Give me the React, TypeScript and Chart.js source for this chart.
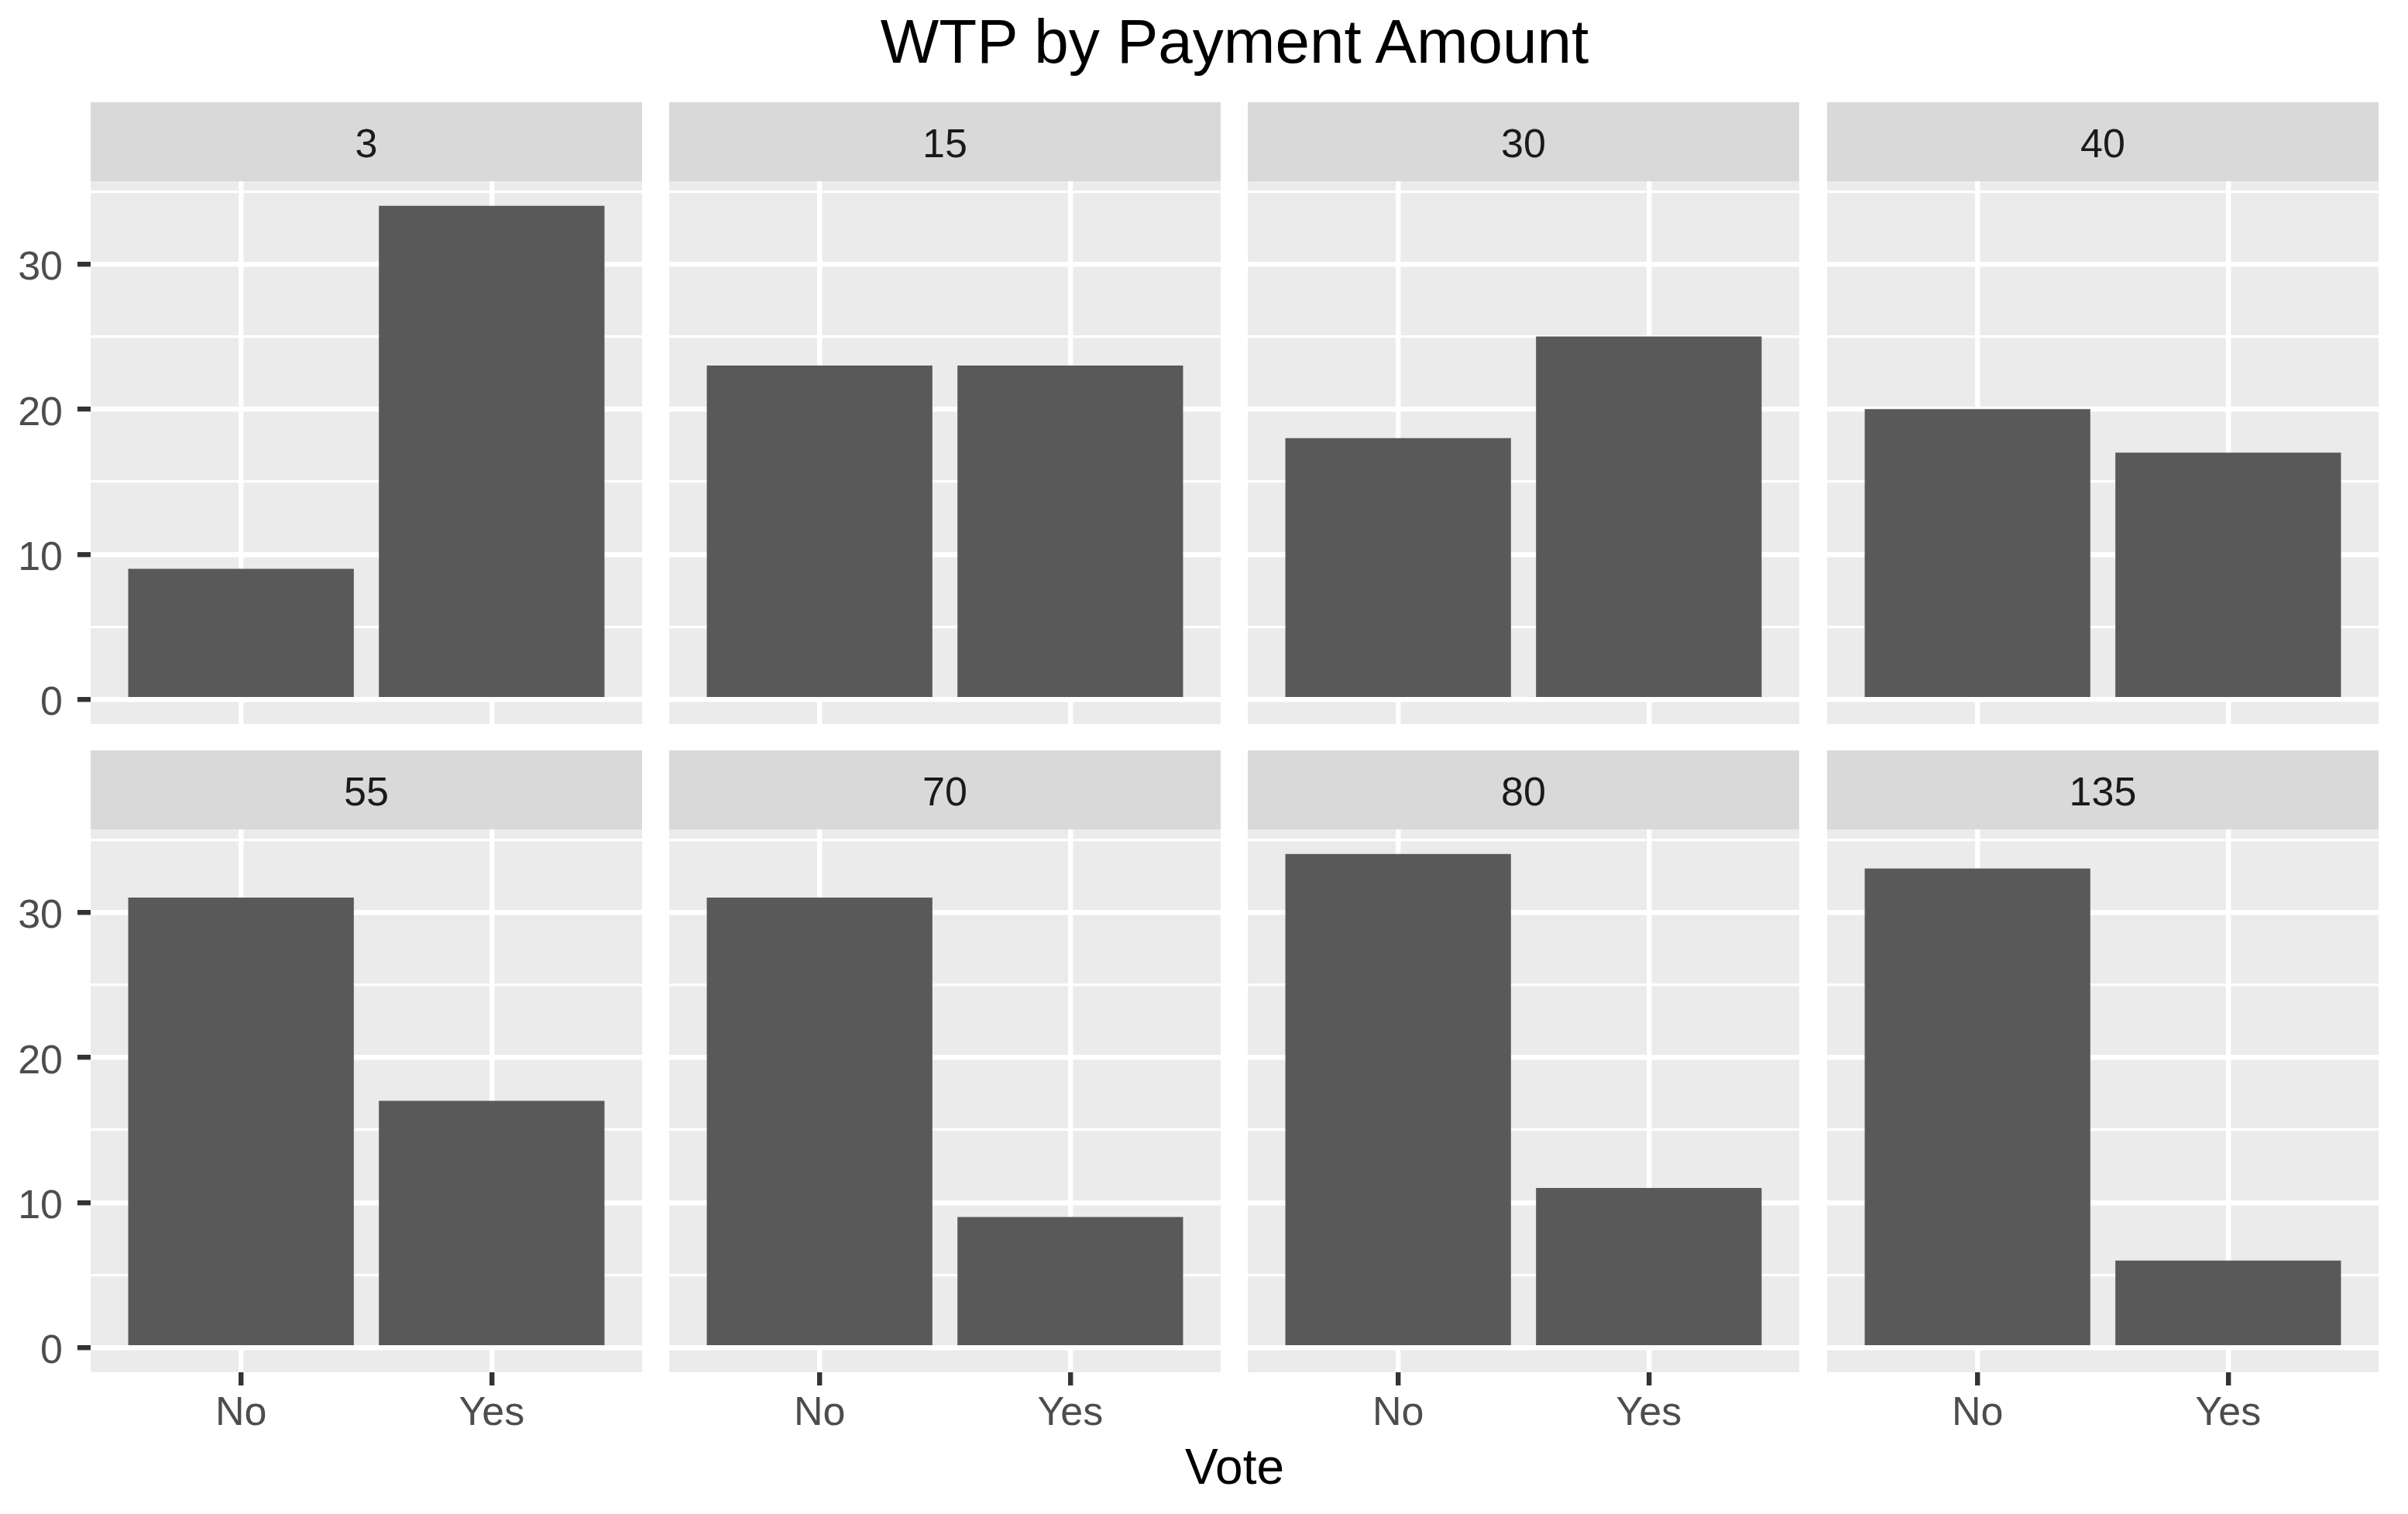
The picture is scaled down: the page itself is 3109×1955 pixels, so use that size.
import React, { useEffect, useRef } from 'react';
import { Chart, registerables } from 'chart.js';

Chart.register(...registerables);

// ---- data ----
const paymentAmounts = ['3', '15', '30', '40', '55', '70', '80', '135'];
const voteCategories = ['No', 'Yes'];
const noCounts = [9, 23, 18, 20, 31, 31, 34, 33];
const yesCounts = [34, 23, 25, 17, 17, 9, 11, 6];
const yMajorTicks = [0, 10, 20, 30];
const yMinorTicks = [5, 15, 25, 35];
const chartTitle = 'WTP by Payment Amount';
const xAxisTitle = 'Vote';

// ---- layout ----
const PANEL_LEFTS = [117, 864, 1611, 2359];
const PANEL_W = 712;
const STRIP_TOPS = [132, 969];
const STRIP_H = 102;
const PLOT_H = 701;
const X_AXIS_H = 90;
const Y_AXIS_W = 117;
const FONT = '"Liberation Sans", Arial, Helvetica, sans-serif';

function Panel({ index }: { index: number }) {
  const ref = useRef<HTMLCanvasElement | null>(null);
  const row = Math.floor(index / 4);
  const col = index % 4;
  const left = col === 0 ? 0 : PANEL_LEFTS[col];
  const right = PANEL_LEFTS[col] + PANEL_W;
  const top = STRIP_TOPS[row];
  const plotBottom = top + STRIP_H + PLOT_H;
  const showX = row === 1;
  const showY = col === 0;
  const bottom = plotBottom + (showX ? X_AXIS_H : 0);
  const w = right - left;
  const h = bottom - top;

  useEffect(() => {
    if (!ref.current) return;
    const stripPlugin = {
      id: 'facetStrip',
      beforeDraw(chart: any) {
        const { ctx, chartArea } = chart;
        const cw = chartArea.right - chartArea.left;
        ctx.save();
        ctx.fillStyle = '#EBEBEB';
        ctx.fillRect(chartArea.left, chartArea.top, cw, chartArea.bottom - chartArea.top);
        ctx.fillStyle = '#D9D9D9';
        ctx.fillRect(chartArea.left, chartArea.top - STRIP_H, cw, STRIP_H);
        ctx.fillStyle = '#1A1A1A';
        ctx.font = `52px ${FONT}`;
        ctx.textAlign = 'center';
        ctx.textBaseline = 'alphabetic';
        ctx.fillText(paymentAmounts[index], (chartArea.left + chartArea.right) / 2, chartArea.top - STRIP_H + 71);
        ctx.restore();
      },
    };
    const values = [noCounts[index], yesCounts[index]];
    const allYTicks = [...yMajorTicks, ...yMinorTicks].sort((a, b) => a - b);
    const chart = new Chart(ref.current, {
      type: 'bar',
      data: {
        datasets: [
          {
            data: voteCategories.map((_, i) => ({ x: i, y: values[i] })),
            backgroundColor: '#595959',
            borderWidth: 0,
            barPercentage: 0.9,
            categoryPercentage: 1,
          },
        ],
      },
      options: {
        responsive: false,
        animation: false,
        layout: { padding: { top: STRIP_H, left: 0, right: 0, bottom: 0 } },
        plugins: {
          legend: { display: false },
          tooltip: { enabled: false },
          title: { display: false },
        },
        scales: {
          x: {
            type: 'linear',
            min: -0.6,
            max: 1.6,
            offset: false,
            afterBuildTicks: (s: any) => {
              s.ticks = voteCategories.map((_, i) => ({ value: i }));
            },
            afterFit: (s: any) => {
              s.height = showX ? X_AXIS_H : 0;
              s.paddingLeft = 0;
              s.paddingRight = 0;
              s.paddingTop = 0;
              s.paddingBottom = 0;
            },
            grid: {
              color: '#FFFFFF',
              lineWidth: 6.4,
              drawTicks: showX,
              tickLength: 17,
              tickColor: '#333333',
              tickWidth: 6.4,
              offset: false,
            },
            border: { display: false },
            ticks: {
              display: showX,
              callback: (v: any) => voteCategories[Math.round(Number(v))] ?? '',
              color: '#4D4D4D',
              font: { family: FONT, size: 52 },
              padding: 5,
              maxRotation: 0,
              autoSkip: false,
            },
          },
          y: {
            type: 'linear',
            min: -1.7,
            max: 35.7,
            afterBuildTicks: (s: any) => {
              s.ticks = allYTicks.map((v) => ({ value: v }));
            },
            afterFit: (s: any) => {
              s.width = showY ? Y_AXIS_W : 0;
              s.paddingLeft = 0;
              s.paddingRight = 0;
              s.paddingTop = 0;
              s.paddingBottom = 0;
            },
            grid: {
              color: '#FFFFFF',
              lineWidth: (c: any) => (c.tick && c.tick.value % 10 === 0 ? 6.4 : 3.2),
              drawTicks: showY,
              tickLength: 17,
              tickColor: (c: any) => (c.tick && c.tick.value % 10 === 0 ? '#333333' : 'rgba(0,0,0,0)'),
              tickWidth: 6.4,
            },
            border: { display: false },
            ticks: {
              display: showY,
              callback: (v: any) => (yMajorTicks.includes(Number(v)) ? String(v) : ''),
              color: '#4D4D4D',
              font: { family: FONT, size: 52 },
              padding: 19,
              labelOffset: 6,
              autoSkip: false,
            },
          },
        },
      },
      plugins: [stripPlugin],
    } as any);
    return () => chart.destroy();
  }, [index]);

  return (
    <canvas
      ref={ref}
      width={w}
      height={h}
      style={{ position: 'absolute', left, top, width: w, height: h }}
    />
  );
}

export default function App() {
  const plotLeft = PANEL_LEFTS[0];
  const plotWidth = PANEL_LEFTS[3] + PANEL_W - plotLeft;
  return (
    <div
      style={{
        position: 'fixed',
        left: 0,
        top: 0,
        width: 3109,
        height: 1955,
        background: '#FFFFFF',
        overflow: 'hidden',
        fontFamily: FONT,
      }}
    >
      <div
        style={{
          position: 'absolute',
          left: plotLeft,
          width: plotWidth,
          top: 14,
          fontSize: 80,
          lineHeight: 1,
          textAlign: 'center',
          color: '#000000',
          whiteSpace: 'nowrap',
        }}
      >
        {chartTitle}
      </div>
      {paymentAmounts.map((_, i) => (
        <Panel key={i} index={i} />
      ))}
      <div
        style={{
          position: 'absolute',
          left: plotLeft,
          width: plotWidth,
          top: 1862,
          fontSize: 64,
          lineHeight: 1,
          textAlign: 'center',
          color: '#000000',
          whiteSpace: 'nowrap',
        }}
      >
        {xAxisTitle}
      </div>
    </div>
  );
}
